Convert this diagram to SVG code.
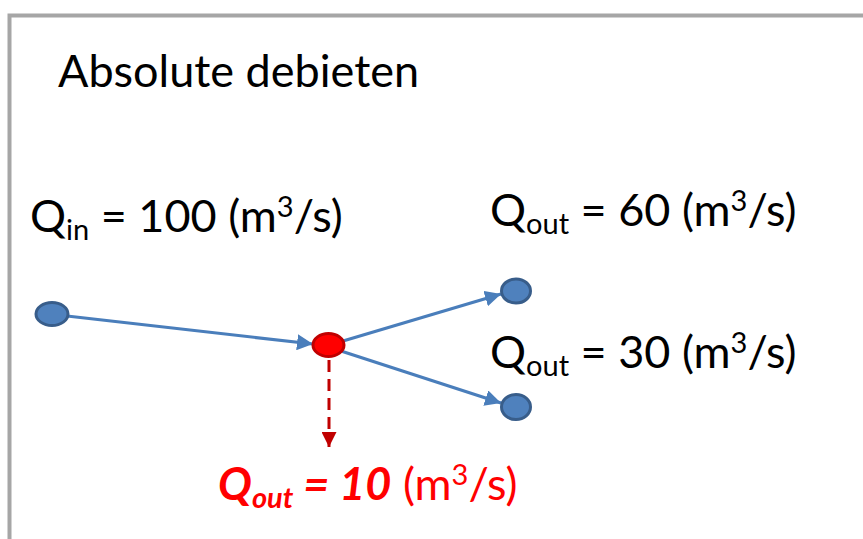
<svg xmlns="http://www.w3.org/2000/svg" width="863" height="539" viewBox="0 0 863 539">
<style>
.t{font-family:Lato,"Liberation Sans",sans-serif;font-size:45px;fill:#000}
.r{fill:#FF0000}
.sub{font-size:29px}
.nb{fill:#4F81BD;stroke:#385D8A;stroke-width:3}
.nr{fill:#FF0000;stroke:#C00000;stroke-width:3}
.c{stroke:#4A7EBB;stroke-width:3.2;fill:none}
</style>
<defs>
<marker id="ab" viewBox="0 0 10 10" refX="10" refY="5" markerWidth="5" markerHeight="5" orient="auto" markerUnits="strokeWidth"><path d="M0,0 L10,5 L0,10 z" fill="#4A7EBB"/></marker>
<marker id="ar" viewBox="0 0 10 10" refX="10" refY="5" markerWidth="5" markerHeight="5" orient="auto" markerUnits="strokeWidth"><path d="M0,0 L10,5 L0,10 z" fill="#C00000"/></marker>
</defs>
<rect x="0" y="0" width="863" height="539" fill="#fff"/>
<path d="M9.5,539 V15.5 H863" fill="none" stroke="#A6A6A6" stroke-width="4"/>
<text class="t" x="58" y="87">Absolute debieten</text>
<g id="connectors">
<line class="c" x1="67" y1="316" x2="313" y2="344" marker-end="url(#ab)"/>
<line class="c" x1="343" y1="341" x2="501" y2="294" marker-end="url(#ab)"/>
<line class="c" x1="341" y1="351" x2="501" y2="403" marker-end="url(#ab)"/>
<line x1="329" y1="360" x2="329" y2="447" stroke="#C00000" stroke-width="3" stroke-dasharray="12,7" marker-end="url(#ar)"/>
</g>
<g id="n-in"><ellipse class="nb" cx="52" cy="314" rx="16" ry="11.5"/></g>
<g id="n-mid"><ellipse class="nr" cx="328.5" cy="345" rx="15.5" ry="11.5"/></g>
<g id="n-out1"><ellipse class="nb" cx="516" cy="291" rx="14.5" ry="12"/></g>
<g id="n-out2"><ellipse class="nb" cx="516" cy="407" rx="14.5" ry="12.5"/></g>
<text class="t" x="30" y="232">Q<tspan class="sub" dy="8">in</tspan><tspan dy="-8"> = 100 (m</tspan><tspan class="sub" dy="-15">3</tspan><tspan dy="15">/s)</tspan></text>
<text class="t" x="490" y="226">Q<tspan class="sub" dy="8">out</tspan><tspan dy="-8"> = 60 (m</tspan><tspan class="sub" dy="-15">3</tspan><tspan dy="15">/s)</tspan></text>
<text class="t" x="490" y="368">Q<tspan class="sub" dy="8">out</tspan><tspan dy="-8"> = 30 (m</tspan><tspan class="sub" dy="-15">3</tspan><tspan dy="15">/s)</tspan></text>
<text class="t r" x="218" y="500"><tspan font-weight="bold" font-style="italic">Q</tspan><tspan class="sub" font-weight="bold" font-style="italic" dy="8">out</tspan><tspan font-weight="bold" font-style="italic" dy="-8"> = 10</tspan> (m<tspan class="sub" dy="-15">3</tspan><tspan dy="15">/s)</tspan></text>
</svg>
